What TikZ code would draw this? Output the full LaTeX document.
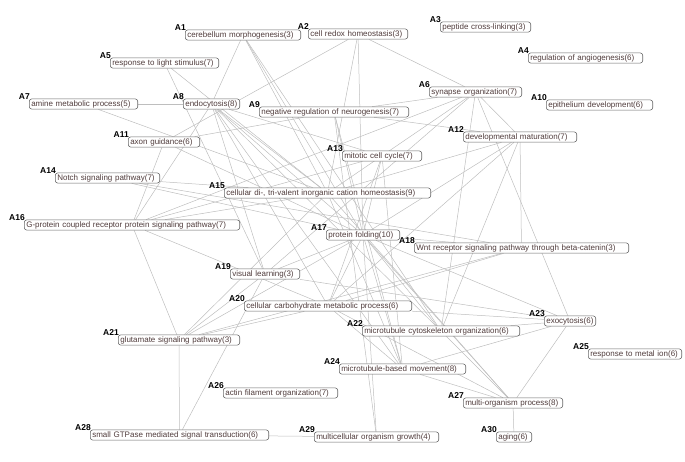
\documentclass[tikz,border=0pt]{standalone}
\usepackage{fontspec}
\setmainfont{Liberation Sans}
\usetikzlibrary{backgrounds}
\definecolor{boxgray}{RGB}{105,105,105}
\definecolor{txt}{RGB}{80,60,60}
\definecolor{linkgray}{RGB}{190,190,190}
\tikzset{
  term/.style={draw=boxgray, fill=white, rounded corners=2.5pt, line width=0.6pt,
    inner xsep=2pt, inner ysep=1.2pt, anchor=west, align=left, text=txt,
    font=\fontsize{8}{9}\selectfont, text height=6pt, text depth=1.8pt},
  tag/.style={font=\bfseries\fontsize{8.5}{9}\selectfont, inner sep=0pt, text=black, anchor=south east},
  link/.style={draw=linkgray, line width=0.5pt}
}
\begin{document}
\begin{tikzpicture}[x=1pt,y=-1pt]
    \useasboundingbox (0,0) rectangle (685,462);
    \node[term, text width=111.4pt] (a1) at (185,35) {cerebellum morphogenesis(3)};
    \node[term, text width=95.4pt] (a2) at (308,34) {cell redox homeostasis(3)};
    \node[term, text width=86.4pt] (a3) at (440,27) {peptide cross-linking(3)};
    \node[term, text width=110.4pt] (a4) at (528,58) {regulation of angiogenesis(6)};
    \node[term, text width=104.4pt] (a5) at (110,63) {response to light stimulus(7)};
    \node[term, text width=88.4pt] (a6) at (429,92) {synapse organization(7)};
    \node[term, text width=104.4pt] (a7) at (29,104) {amine metabolic process(5)};
    \node[term, text width=52.4pt] (a8) at (183,104) {endocytosis(8)};
    \node[term, text width=145.4pt] (a9) at (259,112) {negative regulation of neurogenesis(7)};
    \node[term, text width=102.4pt] (a10) at (546,105) {epithelium development(6)};
    \node[term, text width=67.4pt] (a11) at (128,142) {axon guidance(6)};
    \node[term, text width=109.4pt] (a12) at (463,137) {developmental maturation(7)};
    \node[term, text width=75.4pt] (a13) at (342,156) {mitotic cell cycle(7)};
    \node[term, text width=100.4pt] (a14) at (55,178) {Notch signaling pathway(7)};
    \node[term, text width=202.4pt] (a15) at (224,193) {cellular di-, tri-valent inorganic cation homeostasis(9)};
    \node[term, text width=211.4pt] (a16) at (24,225) {G-protein coupled receptor protein signaling pathway(7)};
    \node[term, text width=69.4pt] (a17) at (326,235) {protein folding(10)};
    \node[term, text width=210.4pt] (a18) at (414,248) {Wnt receptor signaling pathway through beta-catenin(3)};
    \node[term, text width=65.4pt] (a19) at (230,274) {visual learning(3)};
    \node[term, text width=163.4pt] (a20) at (244,306) {cellular carbohydrate metabolic process(6)};
    \node[term, text width=117.4pt] (a21) at (118,340) {glutamate signaling pathway(3)};
    \node[term, text width=153.4pt] (a22) at (362,331) {microtubule cytoskeleton organization(6)};
    \node[term, text width=47.4pt] (a23) at (544,321) {exocytosis(6)};
    \node[term, text width=122.4pt] (a24) at (339,369) {microtubule-based movement(8)};
    \node[term, text width=89.4pt] (a25) at (588,354) {response to metal ion(6)};
    \node[term, text width=110.4pt] (a26) at (223,393) {actin filament organization(7)};
    \node[term, text width=95.4pt] (a27) at (463,403) {multi-organism process(8)};
    \node[term, text width=174.4pt] (a28) at (90,435) {small GTPase mediated signal transduction(6)};
    \node[term, text width=120.4pt] (a29) at (314,437) {multicellular organism growth(4)};
    \node[term, text width=31.4pt] (a30) at (496,437) {aging(6)};
    \foreach \n in {1,...,30}
      \node[tag] (t\n) at ([xshift=1pt,yshift=-1pt]a\n.north west) {A\n};
    \begin{pgfonlayer}{background}
      \foreach \a/\b in {a1/a8,a1/a17,a1/a22,a1/a15,a2/a11,a2/a15,a2/a17,a2/a6,
        a5/a15,a5/a19,a6/a9,a6/a12,a6/a16,a6/a19,a6/a22,a6/a23,a6/a15,a7/a8,a7/a15,
        a8/a16,a8/a17,a8/a15,a8/a19,a8/a20,a8/a22,a8/a24,a8/a13,
        a9/a11,a9/a12,a9/a17,a9/a29,a9/a24,a11/a16,a11/a17,
        a12/a15,a12/a17,a12/a18,a12/a22,a12/a20,a13/a20,a13/a24,a13/a16,a13/a17,
        a14/a15,a14/a17,a14/a18,a15/a16,a15/a21,a15/a24,a15/a27,a16/a20,a16/a21,
        a17/a18,a17/a19,a17/a20,a17/a21,a17/a22,a17/a23,a17/a24,a17/a27,a17/a29,
        a18/a20,a19/a21,a19/a28,a19/a23,a20/a21,a20/a23,a20/a24,a20/a27,a21/a18,
        a22/a23,a22/a27,a23/a27,a24/a23,a24/a27,a27/a30,a21/a28,a28/a29}
        \draw[link] (\a) -- (\b);
    \end{pgfonlayer}
\end{tikzpicture}
\end{document}
